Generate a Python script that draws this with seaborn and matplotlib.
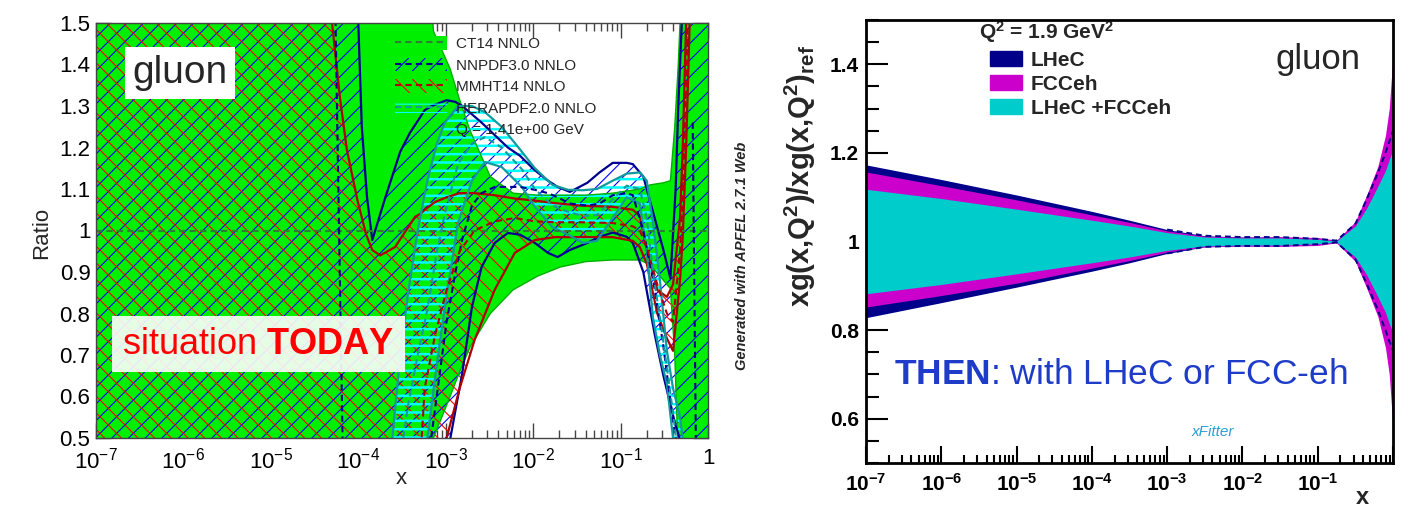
import numpy as np
import matplotlib
matplotlib.use("Agg")
import matplotlib.pyplot as plt
import seaborn as sns
from matplotlib.patches import Patch
from matplotlib.lines import Line2D
from matplotlib.ticker import MultipleLocator, LogLocator, FuncFormatter, NullFormatter

# ---------------- left panel data (log10 x, ratio) ----------------
# CT14 NNLO (green band, central = 1)
lx_ct = [-7.0, -3.3, -3.14, -2.95, -2.84, -2.72, -2.49, -2.23, -1.95, -1.69,
         -1.40, -1.09, -0.78, -0.66, -0.51, -0.43, -0.38, -0.34, -0.31, 0.0]
ct_hi = [2.0, 1.9, 1.48, 1.39, 1.314, 1.24, 1.13, 1.09, 1.085, 1.085,
         1.085, 1.09, 1.10, 1.11, 1.115, 1.12, 1.25, 1.40, 1.55, 2.0]
ct_lo = [0.0, 0.35, 0.50, 0.60, 0.66, 0.72, 0.80, 0.857, 0.89, 0.912,
         0.925, 0.929, 0.929, 0.917, 0.88, 0.86, 0.70, 0.45, 0.2, 0.0]
lx_ct_mid = [-7.0, 0.0]
ct_mid = [1.0, 1.0]

# NNPDF3.0 NNLO
lx_nn = [-7.0, -4.30, -4.26, -4.18, -4.05, -4.00, -3.96, -3.90, -3.84, -3.69,
         -3.52, -3.41, -3.24, -3.16, -2.99, -2.89, -2.81, -2.70, -2.59, -2.44,
         -2.29, -2.15, -1.98, -1.83, -1.72, -1.58, -1.38, -1.24, -1.09, -0.93,
         -0.86, -0.74, -0.61, -0.51, -0.43, -0.37, -0.34, -0.30, -0.175, -0.13, 0.0]
nn_hi = [2.0, 2.0, 2.0, 2.0, 1.8, 1.5, 1.25, 1.08, 0.977, 1.08,
         1.19, 1.235, 1.29, 1.30, 1.314, 1.31, 1.30, 1.28, 1.26, 1.23,
         1.20, 1.18, 1.145, 1.12, 1.105, 1.093, 1.115, 1.14, 1.163, 1.163,
         1.16, 1.13, 1.03, 0.953, 0.885, 1.10, 1.30, 1.5, 2.0, 2.0, 2.0]
nn_lo = [0.0, 0.0, 0.0, 0.0, 0.0, 0.0, 0.0, 0.0, 0.0, 0.0,
         0.0, 0.0, 0.0, 0.2, 0.45, 0.565, 0.657, 0.816, 0.912, 0.97,
         0.994, 0.99, 0.97, 0.946, 0.936, 0.953, 0.97, 0.985, 0.995, 0.985,
         0.97, 0.90, 0.75, 0.65, 0.58, 0.53, 0.51, 0.48, 0.0, 0.0, 0.0]
nn_mid = [2.0, 2.0, 1.5, 0.5, 0.0, 0.0, 0.0, 0.0, 0.0, 0.0,
          0.0, 0.0, 0.3, 0.51, 0.78, 0.898, 0.98, 1.06, 1.09, 1.105,
          1.105, 1.105, 1.098, 1.09, 1.08, 1.065, 1.06, 1.065, 1.085, 1.09,
          1.085, 1.0, 0.86, 0.72, 0.59, 0.50, 0.46, np.nan, 1.26, 0.3, 0.0]

# MMHT14 NNLO
lx_mm = [-7.0, -4.40, -4.30, -4.21, -4.13, -4.01, -3.91, -3.84, -3.75, -3.58,
         -3.35, -3.29, -3.24, -3.12, -2.99, -2.84, -2.67, -2.44, -2.21, -1.98,
         -1.75, -1.46, -1.09, -0.86, -0.78, -0.70, -0.58, -0.47, -0.40, -0.32,
         -0.29, -0.25, -0.21, 0.0]
mm_hi = [2.0, 2.0, 1.5, 1.32, 1.194, 1.073, 0.99, 0.953, 0.94, 0.96,
         1.033, 1.04, 1.05, 1.069, 1.08, 1.09, 1.09, 1.085, 1.077, 1.072,
         1.066, 1.06, 1.057, 1.05, 1.035, 0.953, 0.857, 0.84, 0.87, 1.03,
         1.194, 1.5, 2.0, 2.0]
mm_lo = [0.0, 0.0, 0.0, 0.0, 0.0, 0.0, 0.0, 0.0, 0.0, 0.0,
         0.0, 0.0, 0.0, 0.3, 0.5, 0.62, 0.736, 0.857, 0.946, 0.977,
         0.984, 0.984, 0.984, 0.975, 0.96, 0.92, 0.80, 0.74, 0.71, 0.88,
         0.98, 1.2, 1.5, 2.0]
mm_mid = [0.0, 0.0, 0.0, 0.0, 0.0, 0.0, 0.0, 0.0, 0.0, 0.1,
          0.3, 0.45, 0.62, 0.75, 0.857, 0.95, 1.0, 1.022, 1.03, 1.022,
          1.02, 1.02, 1.018, 1.01, 1.0, 0.96, 0.87, 0.80, 0.78, 0.95,
          1.08, 1.35, 1.7, 2.0]

# HERAPDF2.0 NNLO
lx_hp = [-7.0, -3.65, -3.61, -3.52, -3.43, -3.32, -3.21, -3.10, -3.01, -2.86,
         -2.70, -2.55, -2.36, -2.13, -1.98, -1.78, -1.60, -1.43, -1.27, -1.09,
         -0.93, -0.78, -0.70, -0.63, -0.55, -0.47, -0.40, -0.32, -0.29, 0.0]
hp_hi = [0.0, 0.40, 0.50, 0.70, 0.85, 1.00, 1.12, 1.21, 1.26, 1.30,
         1.30, 1.285, 1.25, 1.19, 1.15, 1.11, 1.098, 1.097, 1.10, 1.12,
         1.137, 1.14, 1.12, 1.02, 0.88, 0.71, 0.62, 0.55, 0.50, 0.0]
hp_lo = [-0.5, -0.2, 0.0, 0.2, 0.3, 0.4, 0.50, 0.68, 0.816, 1.018,
         1.12, 1.165, 1.153, 1.105, 1.057, 1.008, 0.99, 0.97, 0.975, 1.03,
         1.08, 1.065, 0.95, 0.79, 0.70, 0.63, 0.50, 0.3, 0.2, -0.5]
hp_mid = [-0.2, 0.1, 0.25, 0.45, 0.58, 0.70, 0.81, 0.95, 1.04, 1.16,
          1.21, 1.225, 1.20, 1.148, 1.10, 1.06, 1.045, 1.035, 1.037, 1.075,
          1.108, 1.10, 1.03, 0.90, 0.79, 0.67, 0.56, 0.42, 0.35, -0.2]

left_yticks = [0.5, 0.6, 0.7, 0.8, 0.9, 1.0, 1.1, 1.2, 1.3, 1.4, 1.5]
legend_labels = ["CT14 NNLO", "NNPDF3.0 NNLO", "MMHT14 NNLO", "HERAPDF2.0 NNLO",
                 "Q = 1.41e+00 GeV"]

# ---------------- right panel data ----------------
lx_r = [-7.0, -6.0, -5.0, -4.0, -3.5, -3.0, -2.5, -2.0, -1.5, -1.0,
        -0.75, -0.5, -0.35, -0.2, -0.1, -0.05, 0.0]
lhec_hi = [1.173, 1.140, 1.105, 1.068, 1.048, 1.027, 1.013, 1.010, 1.010, 1.006,
           1.002, 1.040, 1.095, 1.155, 1.200, 1.225, 1.250]
lhec_lo = [0.828, 0.862, 0.897, 0.933, 0.952, 0.973, 0.988, 0.990, 0.990, 0.994,
           0.998, 0.960, 0.905, 0.845, 0.800, 0.775, 0.755]
fcc_hi = [1.157, 1.126, 1.094, 1.060, 1.043, 1.024, 1.012, 1.010, 1.011, 1.009,
          1.003, 1.045, 1.105, 1.170, 1.240, 1.300, 1.420]
fcc_lo = [0.852, 0.878, 0.906, 0.940, 0.957, 0.976, 0.988, 0.990, 0.989, 0.991,
          0.997, 0.955, 0.895, 0.830, 0.760, 0.700, 0.580]
comb_hi = [1.118, 1.097, 1.073, 1.048, 1.035, 1.020, 1.010, 1.008, 1.008, 1.005,
           1.001, 1.035, 1.075, 1.125, 1.160, 1.185, 1.209]
comb_lo = [0.882, 0.903, 0.927, 0.952, 0.965, 0.980, 0.990, 0.992, 0.992, 0.995,
           0.999, 0.965, 0.925, 0.875, 0.840, 0.815, 0.795]
right_yticks = [0.6, 0.8, 1.0, 1.2, 1.4]
right_labels = ["LHeC", "FCCeh", "LHeC +FCCeh"]

# ---------------- style ----------------
sns.set_style("ticks")
plt.rcParams.update({
    "font.family": ["Liberation Sans", "DejaVu Sans"],
    "mathtext.fontset": "custom",
    "mathtext.rm": "Liberation Sans",
    "mathtext.it": "Liberation Sans:italic",
    "mathtext.bf": "Liberation Sans:bold",
    "mathtext.sf": "Liberation Sans",
    "hatch.linewidth": 0.8,
})

GREEN = "#00ee00"
DKGREEN = "#2e7d32"
NAVY = "#000090"
BLUEH = "#0000ff"
DKRED = "#b00000"
REDH = "#ff0000"
TEAL = "#139a9e"
CYANH = "#00ffff"
DASH = (0, (3, 2))

L_NAVY = "#00008b"
L_MAG = "#cc00cc"
L_CYAN = "#00cccc"

X = lambda lx: 10.0 ** np.asarray(lx, dtype=float)


def line(ax, lx, y, **kw):
    """plot contiguous non-NaN runs with seaborn"""
    x = X(lx)
    y = np.asarray(y, dtype=float)
    ok = ~np.isnan(y)
    idx = np.where(ok)[0]
    runs = np.split(idx, np.where(np.diff(idx) != 1)[0] + 1)
    for r in runs:
        if len(r) < 2:
            continue
        sns.lineplot(x=x[r], y=y[r], ax=ax, estimator=None, sort=False, **kw)


fig = plt.figure(figsize=(14.17, 5.09), dpi=100)
W, H = 1417.0, 509.0
ax1 = fig.add_axes([96 / W, (H - 438) / H, 612 / W, 415 / H])
ax2 = fig.add_axes([866 / W, (H - 463) / H, 527 / W, 443 / H])

# ================= LEFT PANEL =================
ax1.set_xscale("log")
ax1.set_xlim(1e-7, 1)
ax1.set_ylim(0.5, 1.5)

ax1.fill_between(X(lx_ct), ct_lo, ct_hi, facecolor=GREEN, edgecolor="none", zorder=1)
ax1.fill_between(X(lx_nn), nn_lo, nn_hi, facecolor="none", edgecolor=BLUEH,
                 hatch="//", linewidth=0, zorder=2)
ax1.fill_between(X(lx_mm), mm_lo, mm_hi, facecolor="none", edgecolor=REDH,
                 hatch="\\\\", linewidth=0, zorder=3)
with plt.rc_context({"hatch.linewidth": 1.8}):
    ax1.fill_between(X(lx_hp), hp_lo, hp_hi, facecolor="none", edgecolor=CYANH,
                     hatch="--", linewidth=0, zorder=4)

# band edges
line(ax1, lx_ct, ct_hi, color="#00b000", lw=1.0, zorder=4.5)
line(ax1, lx_ct, ct_lo, color="#00b000", lw=1.0, zorder=4.5)
for lx, hi, lo, c in [(lx_nn, nn_hi, nn_lo, NAVY), (lx_mm, mm_hi, mm_lo, DKRED),
                      (lx_hp, hp_hi, hp_lo, TEAL)]:
    line(ax1, lx, hi, color=c, lw=1.6, zorder=5)
    line(ax1, lx, lo, color=c, lw=1.6, zorder=5)

# central values
line(ax1, lx_ct_mid, ct_mid, color=DKGREEN, lw=1.5, ls=DASH, zorder=6)
line(ax1, lx_nn, nn_mid, color=NAVY, lw=1.5, ls=DASH, zorder=6)
line(ax1, lx_mm, mm_mid, color=DKRED, lw=1.5, ls=DASH, zorder=6)
line(ax1, lx_hp, hp_mid, color=TEAL, lw=1.5, ls=DASH, zorder=6)

ax1.xaxis.set_major_locator(LogLocator(base=10, numticks=20))
ax1.xaxis.set_minor_locator(LogLocator(base=10, subs=np.arange(2, 10), numticks=20))
ax1.xaxis.set_minor_formatter(NullFormatter())
ax1.xaxis.set_major_formatter(FuncFormatter(
    lambda v, p: "1" if abs(np.log10(v)) < 1e-9 else r"$10^{%d}$" % round(np.log10(v))))
ax1.set_yticks(left_yticks)
ax1.yaxis.set_minor_locator(MultipleLocator(0.02))
ax1.yaxis.set_major_formatter(FuncFormatter(lambda v, p: "%g" % round(v, 2)))
ax1.tick_params(which="both", direction="in", top=True, right=True,
                colors="#444444", labelcolor="black", labelsize=16, width=1)
ax1.tick_params(which="major", length=11)
ax1.tick_params(which="minor", length=6)
ax1.tick_params(axis="y", pad=4)
ax1.tick_params(axis="x", pad=7)
for s in ax1.spines.values():
    s.set_color("#444444")
    s.set_linewidth(1.0)
    s.set_zorder(8)
ax1.set_xlabel("")
ax1.set_ylabel("")

# legend
h_ct = (Patch(facecolor=GREEN, edgecolor="none"),
        Line2D([], [], color=DKGREEN, ls=DASH, lw=1.5))
h_nn = (Patch(facecolor="none", edgecolor=BLUEH, hatch="//", lw=0),
        Line2D([], [], color=NAVY, ls=DASH, lw=1.5))
h_mm = (Patch(facecolor="none", edgecolor=REDH, hatch="\\\\", lw=0),
        Line2D([], [], color=DKRED, ls=DASH, lw=1.5))
with plt.rc_context({"hatch.linewidth": 1.8}):
    h_hp = (Patch(facecolor="none", edgecolor=CYANH, hatch="--", lw=0),
            Line2D([], [], color=TEAL, ls=DASH, lw=1.5))
h_q = Patch(facecolor="none", edgecolor="none")
leg = ax1.legend([h_ct, h_nn, h_mm, h_hp, h_q], legend_labels,
                 loc="upper left", bbox_to_anchor=(0.488, 0.968), frameon=False,
                 fontsize=11, handlelength=3.4, handleheight=1.0, handletextpad=0.6,
                 labelspacing=0.42, borderpad=0, borderaxespad=0)
leg.set_zorder(9)

ax1.text(0.137, 0.880, "gluon", transform=ax1.transAxes, fontsize=28,
         ha="center", va="center", zorder=10,
         bbox=dict(facecolor="white", edgecolor="none", boxstyle="square,pad=0.2"))
ax1.text(0.265, 0.2265, r"situation $\mathbf{TODAY}$", transform=ax1.transAxes,
         fontsize=26, color="#ff0000", ha="center", va="center", zorder=10,
         bbox=dict(facecolor="white", alpha=0.9, edgecolor="none",
                   boxstyle="square,pad=0.28"))

fig.text(401 / W, 1 - 478 / H, "x", fontsize=16, ha="center", va="center")
fig.text(42 / W, 1 - 233 / H, "Ratio", fontsize=16, rotation=90,
         ha="center", va="center")
fig.text(742 / W, 1 - 256 / H, "Generated with APFEL 2.7.1 Web", fontsize=10.5,
         fontweight="bold", fontstyle="italic", rotation=90, ha="center", va="center")

# ================= RIGHT PANEL =================
ax2.set_xscale("log")
ax2.set_xlim(1e-7, 1)
ax2.set_ylim(0.5, 1.5)

ax2.fill_between(X(lx_r), lhec_lo, lhec_hi, color=L_NAVY, lw=0, zorder=1)
ax2.fill_between(X(lx_r), fcc_lo, fcc_hi, color=L_MAG, lw=0, zorder=2)
ax2.fill_between(X(lx_r), comb_lo, comb_hi, color=L_CYAN, lw=0, zorder=3)
line(ax2, lx_r[5:], lhec_hi[5:], color=L_NAVY, lw=1.4, ls=DASH, zorder=4)
line(ax2, lx_r[5:], lhec_lo[5:], color=L_NAVY, lw=1.4, ls=DASH, zorder=4)

ax2.xaxis.set_major_locator(LogLocator(base=10, numticks=20))
ax2.xaxis.set_minor_locator(LogLocator(base=10, subs=np.arange(2, 10), numticks=20))
ax2.xaxis.set_minor_formatter(NullFormatter())
ax2.xaxis.set_major_formatter(FuncFormatter(
    lambda v, p: "" if abs(np.log10(v)) < 1e-9 else r"$\mathbf{10^{%d}}$" % round(np.log10(v))))
ax2.set_yticks(right_yticks)
ax2.set_yticklabels(["%g" % v for v in right_yticks], fontweight="bold")
ax2.yaxis.set_minor_locator(MultipleLocator(0.05))
ax2.tick_params(which="both", direction="in", top=False, right=False,
                colors="black", labelsize=15, width=1.5)
ax2.tick_params(axis="y", which="major", length=16, pad=5)
ax2.tick_params(axis="y", which="minor", length=9)
ax2.tick_params(axis="x", which="major", length=12, pad=7)
ax2.tick_params(axis="x", which="minor", length=6)
for s in ax2.spines.values():
    s.set_color("black")
    s.set_linewidth(2.0)
    s.set_zorder(8)
ax2.set_xlabel("")
ax2.set_ylabel("")

ax2.text((979 - 866) / 527, (463 - 32) / 443,
         r"Q$^{\mathbf{2}}$ = 1.9 GeV$^{\mathbf{2}}$", fontweight="bold",
         transform=ax2.transAxes, fontsize=15, ha="left", va="center")
leg2 = ax2.legend(handles=[Patch(color=L_NAVY), Patch(color=L_MAG), Patch(color=L_CYAN)],
                  labels=right_labels, loc="upper left",
                  bbox_to_anchor=((990 - 866) / 527, (463 - 51) / 443), frameon=False,
                  prop={"weight": "bold", "size": 15}, handlelength=1.55,
                  handleheight=0.72, handletextpad=0.4, labelspacing=0.24,
                  borderpad=0, borderaxespad=0)

ax2.text((1318 - 866) / 527, (463 - 60) / 443, "gluon", transform=ax2.transAxes,
         fontsize=25, ha="center", va="center")
ax2.text((1121 - 866) / 527, (463 - 375) / 443,
         r"$\mathbf{THEN}$: with LHeC or FCC-eh", transform=ax2.transAxes,
         fontsize=25.5, color="#1e3cc8", ha="center", va="center")
ax2.text((1213 - 866) / 527, (463 - 432) / 443, "xFitter", transform=ax2.transAxes,
         fontsize=11, fontstyle="italic", color="#2a9fd6", ha="center", va="center")

fig.text(1362 / W, 1 - 497 / H, "x", fontsize=17, fontweight="bold",
         ha="center", va="center")
fig.text(800 / W, 1 - 176 / H, r"$\mathbf{xg(x{,}Q^{2})/xg(x{,}Q^{2})_{ref}}$",
         fontsize=21, rotation=90, ha="center", va="center")

fig.savefig("out.png", dpi=100)
